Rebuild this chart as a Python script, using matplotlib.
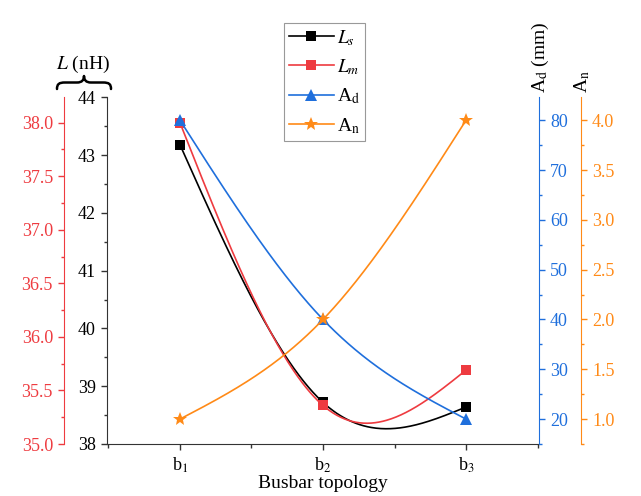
import numpy as np
import matplotlib
matplotlib.use("Agg")
import matplotlib.pyplot as plt
from matplotlib.path import Path
from matplotlib.patches import PathPatch
from matplotlib.ticker import MultipleLocator, FormatStrFormatter
from matplotlib.lines import Line2D

plt.rcParams['font.family'] = ['Liberation Serif', 'DejaVu Serif']
plt.rcParams['mathtext.fontset'] = 'stix'

# ---- data ----
topology = ['b$_1$', 'b$_2$', 'b$_3$']
positions = [1, 2, 3]
ls_nh = [43.18, 38.72, 38.64]      # L_s (nH), inner left axis
lm_nh = [38.00, 35.36, 35.69]      # L_m (nH), outer left axis
ad_mm = [80, 40, 20]               # A_d (mm), inner right axis
an_vals = [1.0, 2.0, 4.0]          # A_n, outer right axis

C_BLACK = '#000000'
C_RED = '#EE3B40'
C_BLUE = '#1F6FDC'
C_ORANGE = '#FF8A17'
C_AXIS = '#333333'

W, H = 641, 496
PT = 72 / 100  # points per pixel at 100 dpi


def natural_spline(x, y, n=300):
    x = np.asarray(x, float)
    y = np.asarray(y, float)
    k = len(x)
    h = np.diff(x)
    A = np.zeros((k, k))
    b = np.zeros(k)
    A[0, 0] = A[-1, -1] = 1.0
    for i in range(1, k - 1):
        A[i, i - 1] = h[i - 1]
        A[i, i] = 2 * (h[i - 1] + h[i])
        A[i, i + 1] = h[i]
        b[i] = 6 * ((y[i + 1] - y[i]) / h[i] - (y[i] - y[i - 1]) / h[i - 1])
    M = np.linalg.solve(A, b)
    xs = np.linspace(x[0], x[-1], n)
    ys = np.empty_like(xs)
    for j, xv in enumerate(xs):
        i = min(np.searchsorted(x, xv, side='right') - 1, k - 2)
        t0 = x[i + 1] - xv
        t1 = xv - x[i]
        ys[j] = (M[i] * t0 ** 3 / (6 * h[i]) + M[i + 1] * t1 ** 3 / (6 * h[i])
                 + (y[i] / h[i] - M[i] * h[i] / 6) * t0
                 + (y[i + 1] / h[i] - M[i + 1] * h[i] / 6) * t1)
    return xs, ys


fig = plt.figure(figsize=(W / 100, H / 100), dpi=100)
ax = fig.add_axes([107 / W, 1 - 444 / H, 432 / W, 346.7 / H])
ax_r = ax.twinx()
ax_b = ax.twinx()
ax_o = ax.twinx()

tick_fs = 13
for a in (ax, ax_r, ax_b, ax_o):
    for s in a.spines.values():
        s.set_visible(False)
    a.patch.set_visible(False)

# inner left axis: L_s
ax.spines['left'].set_visible(True)
ax.spines['bottom'].set_visible(True)
ax.spines['left'].set_color(C_AXIS)
ax.spines['bottom'].set_color(C_AXIS)
ax.set_xlim(0.49, 3.51)
ax.set_ylim(38, 44)
ax.yaxis.set_major_locator(MultipleLocator(1))
ax.yaxis.set_minor_locator(MultipleLocator(0.5))
ax.set_xticks(positions)
ax.set_xticklabels(topology)
ax.xaxis.set_minor_locator(MultipleLocator(0.5))
ax.tick_params(axis='both', which='major', direction='out', length=4.5, width=1,
               color=C_AXIS, labelsize=tick_fs)
ax.tick_params(axis='both', which='minor', direction='out', length=2.5, width=1,
               color=C_AXIS)
ax.tick_params(axis='x', which='minor', length=3)
ax.set_xlabel('Busbar topology', fontsize=14, labelpad=0)

# outer left axis: L_m
ax_r.yaxis.set_ticks_position('left')
ax_r.yaxis.set_label_position('left')
ax_r.spines['left'].set_visible(True)
ax_r.spines['left'].set_position(('outward', 43 * PT))
ax_r.spines['left'].set_color(C_RED)
ax_r.set_ylim(35.0, 38.237)
ax_r.yaxis.set_major_locator(MultipleLocator(0.5))
ax_r.yaxis.set_minor_locator(MultipleLocator(0.25))
ax_r.yaxis.set_major_formatter(FormatStrFormatter('%.1f'))
ax_r.tick_params(axis='y', which='major', direction='out', length=4.5, width=1,
                 color=C_RED, labelcolor=C_RED, labelsize=tick_fs)
ax_r.tick_params(axis='y', which='minor', direction='out', length=2.5, width=1,
                 color=C_RED)

# inner right axis: A_d
ax_b.spines['right'].set_visible(True)
ax_b.spines['right'].set_color(C_BLUE)
ax_b.set_ylim(15, 84.6)
ax_b.yaxis.set_major_locator(MultipleLocator(10))
ax_b.yaxis.set_minor_locator(MultipleLocator(5))
ax_b.tick_params(axis='y', which='major', direction='out', length=4.5, width=1,
                 color=C_BLUE, labelcolor=C_BLUE, labelsize=tick_fs)
ax_b.tick_params(axis='y', which='minor', direction='out', length=2.5, width=1,
                 color=C_BLUE)

# outer right axis: A_n
ax_o.spines['right'].set_visible(True)
ax_o.spines['right'].set_position(('outward', 42 * PT))
ax_o.spines['right'].set_color(C_ORANGE)
ax_o.set_ylim(0.75, 4.23)
ax_o.yaxis.set_major_locator(MultipleLocator(0.5))
ax_o.yaxis.set_minor_locator(MultipleLocator(0.25))
ax_o.yaxis.set_major_formatter(FormatStrFormatter('%.1f'))
ax_o.tick_params(axis='y', which='major', direction='out', length=4.5, width=1,
                 color=C_ORANGE, labelcolor=C_ORANGE, labelsize=tick_fs)
ax_o.tick_params(axis='y', which='minor', direction='out', length=2.5, width=1,
                 color=C_ORANGE)

# curves and markers
series = [
    (ax, ls_nh, C_BLACK, 's', 7, '$L_s$'),
    (ax_r, lm_nh, C_RED, 's', 7, '$L_m$'),
    (ax_b, ad_mm, C_BLUE, '^', 8, 'A$_\\mathrm{d}$'),
    (ax_o, an_vals, C_ORANGE, '*', 10, 'A$_\\mathrm{n}$'),
]
handles = []
for a, vals, col, mk, ms, lab in series:
    xs, ys = natural_spline(positions, vals)
    a.plot(xs, ys, color=col, lw=1.2, clip_on=False)
    a.plot(positions, vals, ls='none', marker=mk, ms=ms, color=col,
           markeredgewidth=0, clip_on=False)
    handles.append(Line2D([], [], color=col, lw=1.2, marker=mk, ms=ms,
                          markeredgewidth=0, label=lab))

leg = ax_o.legend(handles=handles, loc='upper left',
                  bbox_to_anchor=(284 / W, 1 - 23 / H),
                  bbox_transform=fig.transFigure, fontsize=14,
                  handlelength=2.3, handletextpad=0.2, borderpad=0.25,
                  labelspacing=0.5, borderaxespad=0, fancybox=False,
                  framealpha=1, edgecolor='#999999')
leg.get_frame().set_linewidth(0.8)

# axis titles
fig.text(83 / W, 1 - 64 / H, '$L$ (nH)', fontsize=14, ha='center', va='center')
fig.text(540 / W, 1 - 93 / H, 'A$_\\mathrm{d}$ (mm)', fontsize=14,
         rotation=90, ha='center', va='bottom')
fig.text(582 / W, 1 - 93 / H, 'A$_\\mathrm{n}$', fontsize=14,
         rotation=90, ha='center', va='bottom')

# curly brace grouping both left axes
def px(x, y):
    return (x / W, 1 - y / H)

verts = [px(57, 89), px(57, 84), px(59, 82.5), px(65, 82.5),
         px(77, 82.5),
         px(82, 82.5), px(84, 80), px(84, 76),
         px(84, 80), px(86, 82.5), px(91, 82.5),
         px(103, 82.5),
         px(109, 82.5), px(111, 84), px(111, 89)]
codes = [Path.MOVETO, Path.CURVE4, Path.CURVE4, Path.CURVE4,
         Path.LINETO,
         Path.CURVE4, Path.CURVE4, Path.CURVE4,
         Path.CURVE4, Path.CURVE4, Path.CURVE4,
         Path.LINETO,
         Path.CURVE4, Path.CURVE4, Path.CURVE4]
fig.patches.append(PathPatch(Path(verts, codes), transform=fig.transFigure,
                             facecolor='none', edgecolor='black', lw=1.8,
                             capstyle='round', joinstyle='round'))

fig.savefig('out.png', dpi=100)
